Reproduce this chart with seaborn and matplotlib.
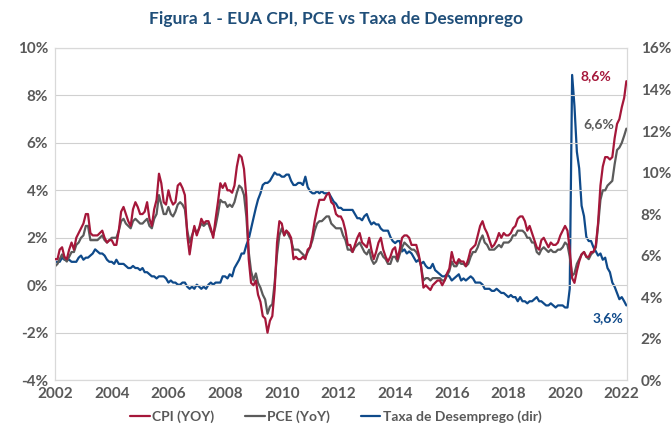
import numpy as np
import pandas as pd
import matplotlib
matplotlib.use("Agg")
import matplotlib.pyplot as plt
import matplotlib.dates as mdates
from matplotlib.lines import Line2D
from matplotlib.ticker import FuncFormatter, MultipleLocator
import seaborn as sns

# ---------------- data (monthly, Jan 2002 - Mar 2022) ----------------
cpi = [
    1.1, 1.1, 1.5, 1.6, 1.2, 1.1, 1.5, 1.8, 1.5, 2.0, 2.2, 2.4,
    2.6, 3.0, 3.0, 2.2, 2.1, 2.1, 2.1, 2.2, 2.3, 2.0, 1.8, 1.9,
    1.9, 1.7, 1.7, 2.3, 3.1, 3.3, 3.0, 2.7, 2.5, 3.2, 3.5, 3.3,
    3.0, 3.0, 3.1, 3.5, 2.8, 2.5, 3.2, 3.6, 4.7, 4.3, 3.5, 3.4,
    4.0, 3.6, 3.4, 3.5, 4.2, 4.3, 4.1, 3.8, 2.1, 1.3, 2.0, 2.5,
    2.1, 2.4, 2.8, 2.6, 2.7, 2.7, 2.4, 2.0, 2.8, 3.5, 4.3, 4.1,
    4.3, 4.0, 4.0, 3.9, 4.2, 5.0, 5.5, 5.4, 4.9, 3.7, 1.1, 0.1,
    0.0, 0.2, -0.4, -0.7, -1.3, -1.4, -2.0, -1.5, -1.3, -0.2, 1.8, 2.7,
    2.6, 2.1, 2.3, 2.2, 2.0, 1.1, 1.2, 1.1, 1.1, 1.2, 1.1, 1.5,
    1.6, 2.1, 2.7, 3.2, 3.6, 3.6, 3.6, 3.8, 3.9, 3.5, 3.4, 3.0,
    2.9, 2.9, 2.7, 2.3, 1.7, 1.7, 1.4, 1.7, 2.0, 2.2, 1.8, 1.7,
    1.6, 2.0, 1.5, 1.1, 1.4, 1.8, 2.0, 1.5, 1.2, 1.0, 1.2, 1.5,
    1.6, 1.1, 1.5, 2.0, 2.1, 2.1, 2.0, 1.7, 1.7, 1.7, 1.3, 0.8,
    -0.1, 0.0, -0.1, -0.2, 0.0, 0.1, 0.2, 0.2, 0.0, 0.2, 0.5, 0.7,
    1.4, 1.0, 0.9, 1.1, 1.0, 1.0, 0.8, 1.1, 1.5, 1.6, 1.7, 2.1,
    2.5, 2.7, 2.4, 2.2, 1.9, 1.6, 1.7, 1.9, 2.2, 2.0, 2.2, 2.1,
    2.1, 2.2, 2.4, 2.5, 2.8, 2.9, 2.9, 2.7, 2.3, 2.5, 2.2, 1.9,
    1.6, 1.5, 1.9, 2.0, 1.8, 1.6, 1.8, 1.7, 1.7, 1.8, 2.1, 2.3,
    2.5, 2.3, 1.5, 0.3, 0.1, 0.6, 1.0, 1.3, 1.4, 1.2, 1.2, 1.4,
    1.4, 1.7, 2.6, 4.2, 5.0, 5.4, 5.4, 5.3, 5.4, 6.2, 6.8, 7.0,
    7.5, 7.9, 8.6,
]
pce = [
    0.8, 0.9, 1.1, 1.3, 1.1, 1.0, 1.2, 1.4, 1.4, 1.7, 1.8, 2.0,
    2.1, 2.5, 2.5, 1.9, 1.9, 1.9, 1.9, 2.0, 2.1, 1.9, 1.8, 1.9,
    2.0, 2.0, 2.0, 2.3, 2.7, 2.8, 2.6, 2.5, 2.4, 2.7, 2.8, 2.7,
    2.6, 2.6, 2.7, 2.8, 2.5, 2.4, 2.8, 3.0, 3.8, 3.4, 3.0, 3.0,
    3.3, 3.0, 2.9, 3.1, 3.4, 3.5, 3.4, 3.2, 2.3, 1.8, 2.1, 2.4,
    2.2, 2.4, 2.6, 2.5, 2.6, 2.6, 2.3, 2.1, 2.5, 3.0, 3.6, 3.5,
    3.5, 3.3, 3.4, 3.3, 3.5, 3.9, 4.2, 4.1, 3.8, 2.9, 1.4, 0.6,
    0.2, 0.5, 0.1, -0.1, -0.4, -0.6, -1.2, -0.9, -0.8, 0.1, 1.3, 2.1,
    2.4, 2.1, 2.3, 2.1, 1.9, 1.5, 1.5, 1.5, 1.4, 1.3, 1.2, 1.4,
    1.6, 1.9, 2.3, 2.6, 2.7, 2.7, 2.8, 2.9, 2.9, 2.6, 2.5, 2.4,
    2.4, 2.4, 2.1, 1.9, 1.5, 1.5, 1.4, 1.6, 1.7, 1.8, 1.6, 1.4,
    1.3, 1.5, 1.1, 0.9, 1.0, 1.3, 1.4, 1.2, 1.1, 0.9, 0.9, 1.2,
    1.2, 1.0, 1.3, 1.6, 1.8, 1.7, 1.6, 1.5, 1.5, 1.4, 1.2, 0.8,
    0.2, 0.3, 0.3, 0.2, 0.3, 0.3, 0.3, 0.3, 0.2, 0.2, 0.4, 0.6,
    1.0, 0.8, 0.8, 1.0, 0.9, 0.9, 0.8, 0.9, 1.2, 1.4, 1.4, 1.6,
    1.9, 2.1, 1.8, 1.7, 1.5, 1.5, 1.5, 1.6, 1.7, 1.6, 1.8, 1.8,
    1.8, 1.9, 2.1, 2.1, 2.3, 2.3, 2.3, 2.2, 2.0, 2.0, 1.8, 1.8,
    1.4, 1.3, 1.5, 1.6, 1.5, 1.4, 1.5, 1.4, 1.4, 1.5, 1.5, 1.6,
    1.8, 1.7, 1.2, 0.4, 0.5, 0.9, 1.1, 1.3, 1.4, 1.2, 1.1, 1.3,
    1.4, 1.6, 2.5, 3.6, 4.0, 4.0, 4.2, 4.3, 4.4, 5.1, 5.7, 5.8,
    6.0, 6.3, 6.6,
]
unemp = [
    5.7, 5.7, 5.7, 5.9, 5.8, 5.8, 5.8, 5.7, 5.7, 5.7, 5.9, 6.0,
    5.8, 5.9, 5.9, 6.0, 6.1, 6.3, 6.2, 6.1, 6.1, 6.0, 5.8, 5.7,
    5.7, 5.6, 5.8, 5.6, 5.6, 5.6, 5.5, 5.4, 5.4, 5.5, 5.4, 5.4,
    5.3, 5.4, 5.2, 5.2, 5.1, 5.0, 5.0, 4.9, 5.0, 5.0, 5.0, 4.9,
    4.7, 4.8, 4.7, 4.7, 4.6, 4.6, 4.7, 4.7, 4.5, 4.4, 4.5, 4.4,
    4.6, 4.5, 4.4, 4.5, 4.4, 4.6, 4.7, 4.6, 4.7, 4.7, 4.7, 5.0,
    5.0, 4.9, 5.1, 5.0, 5.4, 5.6, 5.8, 6.1, 6.1, 6.5, 6.8, 7.3,
    7.8, 8.3, 8.7, 9.0, 9.4, 9.5, 9.5, 9.6, 9.8, 10.0, 9.9, 9.9,
    9.8, 9.8, 9.9, 9.9, 9.6, 9.4, 9.4, 9.5, 9.5, 9.4, 9.8, 9.3,
    9.1, 9.0, 9.0, 9.1, 9.0, 9.1, 9.0, 9.0, 9.0, 8.8, 8.6, 8.5,
    8.3, 8.3, 8.2, 8.2, 8.2, 8.2, 8.2, 8.0, 7.8, 7.8, 7.7, 7.9,
    8.0, 7.7, 7.5, 7.6, 7.5, 7.5, 7.3, 7.2, 7.2, 7.2, 6.9, 6.7,
    6.6, 6.7, 6.7, 6.2, 6.3, 6.1, 6.2, 6.1, 5.9, 5.7, 5.8, 5.6,
    5.7, 5.5, 5.4, 5.4, 5.6, 5.3, 5.2, 5.1, 5.0, 5.0, 5.1, 5.0,
    4.8, 4.9, 5.0, 5.1, 4.8, 4.9, 4.8, 4.9, 5.0, 4.9, 4.7, 4.7,
    4.7, 4.6, 4.4, 4.4, 4.4, 4.3, 4.3, 4.4, 4.3, 4.2, 4.2, 4.1,
    4.0, 4.1, 4.0, 4.0, 3.8, 4.0, 3.8, 3.8, 3.7, 3.8, 3.8, 3.9,
    4.0, 3.8, 3.8, 3.7, 3.6, 3.6, 3.7, 3.6, 3.5, 3.6, 3.6, 3.6,
    3.5, 3.5, 4.4, 14.7, 13.2, 11.0, 10.2, 8.4, 7.9, 6.9, 6.7, 6.7,
    6.4, 6.2, 6.0, 6.1, 5.8, 5.9, 5.4, 5.2, 4.7, 4.5, 4.2, 3.9,
    4.0, 3.8, 3.6,
]
start_month = "2002-01-01"
tick_years = list(range(2002, 2023, 2))
series_labels = ["CPI (YOY)", "PCE (YoY)", "Taxa de Desemprego (dir)"]
title = "Figura 1 - EUA CPI, PCE vs Taxa de Desemprego"

# ---------------- styling ----------------
C_CPI = "#a5173a"
C_PCE = "#5b5b5b"
C_UN = "#0f4a8a"
C_TXT = "#595959"
C_TITLE = "#1f4e79"
FONT = ["Lato", "DejaVu Sans"]

sns.set_theme(style="white")
plt.rcParams["font.family"] = FONT

dates = pd.date_range(start_month, periods=len(cpi), freq="MS")
df = pd.DataFrame({"date": dates, "cpi": cpi, "pce": pce, "unemp": unemp})

fig = plt.figure(figsize=(6.72, 4.32), dpi=100)
ax = fig.add_axes([0.082, 0.12, 0.851, 0.769])
ax2 = ax.twinx()

sns.lineplot(data=df, x="date", y="cpi", ax=ax, color=C_CPI, lw=1.6, zorder=3)
sns.lineplot(data=df, x="date", y="pce", ax=ax, color=C_PCE, lw=1.6, zorder=2)
sns.lineplot(data=df, x="date", y="unemp", ax=ax2, color=C_UN, lw=1.6, zorder=3)

ax.set_ylim(-4, 10)
ax2.set_ylim(0, 16)
ax.yaxis.set_major_locator(MultipleLocator(2))
ax2.yaxis.set_major_locator(MultipleLocator(2))
ax.yaxis.set_major_formatter(FuncFormatter(lambda v, p: f"{v:.0f}%"))
ax2.yaxis.set_major_formatter(FuncFormatter(lambda v, p: f"{v:.0f}%"))
ax.set_xlim(dates[0], dates[-1] + pd.Timedelta(days=8))
ax.set_xticks([pd.Timestamp(f"{y}-01-01") for y in tick_years])
ax.xaxis.set_major_formatter(mdates.DateFormatter("%Y"))

ax.grid(axis="y", color="#d0d0d0", lw=0.8)
ax.grid(axis="x", visible=False)
ax2.grid(False)
for a in (ax, ax2):
    a.set_xlabel("")
    a.set_ylabel("")
    for s in a.spines.values():
        s.set_color("#d9d9d9")
        s.set_linewidth(0.8)
    a.tick_params(length=0, labelsize=11, labelcolor=C_TXT, pad=5)
    for lab in a.get_xticklabels() + a.get_yticklabels():
        lab.set_fontweight("bold")
ax2.tick_params(axis="y", pad=10)

ax.set_zorder(ax2.get_zorder() + 1)
ax.patch.set_visible(False)

# annotations
ax.annotate(f"{cpi[-1]:.1f}%".replace(".", ","), (dates[-1], cpi[-1]),
            xytext=(-22, 4), textcoords="offset points", ha="center", va="center",
            color=C_CPI, fontsize=10, fontweight="bold")
ax.annotate(f"{pce[-1]:.1f}%".replace(".", ","), (dates[-1], pce[-1]),
            xytext=(-20, 3), textcoords="offset points", ha="center", va="center",
            color=C_PCE, fontsize=10, fontweight="bold")
ax2.annotate(f"{unemp[-1]:.1f}%".replace(".", ","), (dates[-1], unemp[-1]),
             xytext=(-13, -9), textcoords="offset points", ha="center", va="center",
             color=C_UN, fontsize=10, fontweight="bold")

fig.text(0.5, 0.957, title, ha="center", va="center", color=C_TITLE,
         fontsize=12.5, fontweight="bold")

handles = [Line2D([0], [0], color=c, lw=1.6) for c in (C_CPI, C_PCE, C_UN)]
leg = fig.legend(handles, series_labels, loc="center", bbox_to_anchor=(0.5, 0.035),
                 ncol=3, frameon=False, handlelength=1.4, handletextpad=0.2,
                 columnspacing=2.2, prop={"family": FONT, "size": 10, "weight": "bold"})
for t in leg.get_texts():
    t.set_color(C_TXT)

fig.savefig("out.png", dpi=100)
